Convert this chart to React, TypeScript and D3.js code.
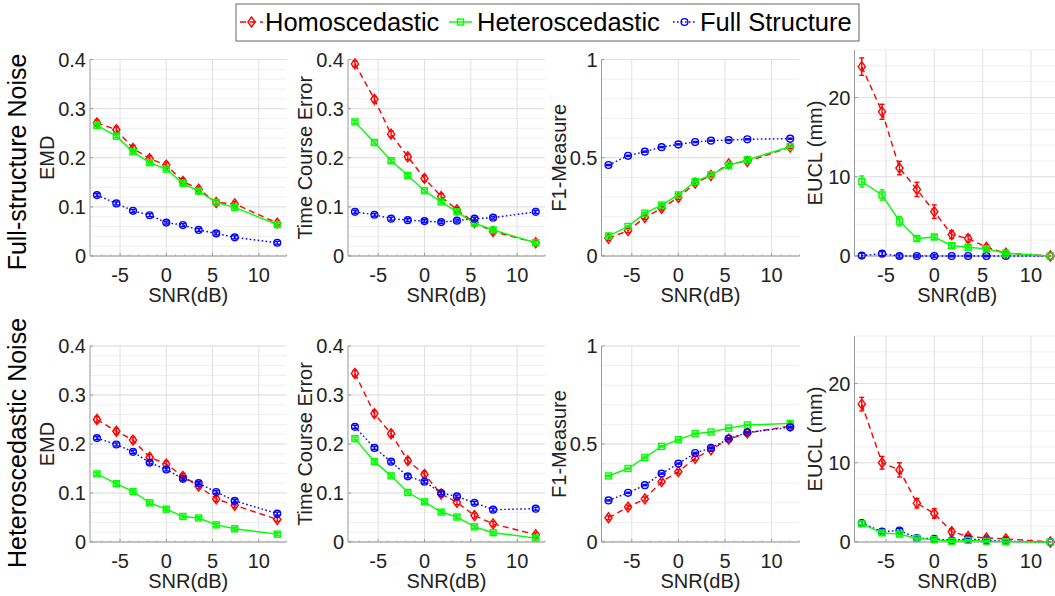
import * as d3 from 'd3';

// SNR levels (dB) shared by all panels
const SNR = [-7.5, -5.4, -3.6, -1.8, 0, 1.8, 3.5, 5.4, 7.4, 12];
const X_TICKS = [-5, 0, 5, 10];
const X_MINOR = [-8, -7, -6, -4, -3, -2, -1, 1, 2, 3, 4, 6, 7, 8, 9, 11, 12, 13];

const SERIES = ['Homoscedastic', 'Heteroscedastic', 'Full Structure'];
const ROW_LABELS = ['Full-structure Noise', 'Heteroscedastic Noise'];

// ─── Row 1: full-structure noise ───────────────────────────────────────────
const emdFullHomo = [0.271, 0.257, 0.219, 0.198, 0.185, 0.152, 0.136, 0.109, 0.106, 0.067];
const emdFullHetero = [0.266, 0.244, 0.212, 0.190, 0.177, 0.148, 0.132, 0.109, 0.099, 0.064];
const emdFullFull = [0.124, 0.107, 0.092, 0.083, 0.068, 0.063, 0.053, 0.046, 0.038, 0.027];

const tceFullHomo = [0.391, 0.319, 0.248, 0.202, 0.158, 0.121, 0.094, 0.068, 0.050, 0.027];
const tceFullHetero = [0.273, 0.231, 0.194, 0.164, 0.133, 0.110, 0.090, 0.067, 0.053, 0.027];
const tceFullFull = [0.090, 0.084, 0.076, 0.073, 0.071, 0.069, 0.072, 0.076, 0.078, 0.090];

const f1FullHomo = [0.090, 0.129, 0.196, 0.243, 0.298, 0.371, 0.410, 0.469, 0.481, 0.554];
const f1FullHetero = [0.102, 0.150, 0.218, 0.259, 0.311, 0.379, 0.413, 0.461, 0.490, 0.556];
const f1FullFull = [0.463, 0.510, 0.531, 0.554, 0.568, 0.580, 0.587, 0.590, 0.594, 0.597];

const euclFullHomo = [23.9, 18.2, 11.1, 8.4, 5.6, 2.7, 2.2, 1.1, 0.35, 0];
const euclFullHetero = [9.4, 7.7, 4.4, 2.2, 2.4, 1.3, 1.1, 0.9, 0.35, 0];
const euclFullFull = [0.05, 0.3, 0, 0, 0, 0, 0, 0, 0, 0];
const euclFullHomoErr = [1.1, 0.95, 0.85, 0.9, 0.85, 0.5, 0.45, 0.3, 0.2, 0];
const euclFullHeteroErr = [0.7, 0.65, 0.6, 0.3, 0.3, 0.25, 0.2, 0.2, 0.15, 0];

// ─── Row 2: heteroscedastic noise ──────────────────────────────────────────
const emdHetHomo = [0.250, 0.226, 0.208, 0.173, 0.159, 0.134, 0.114, 0.088, 0.075, 0.046];
const emdHetHetero = [0.139, 0.119, 0.103, 0.080, 0.067, 0.052, 0.049, 0.035, 0.027, 0.016];
const emdHetFull = [0.212, 0.199, 0.184, 0.162, 0.148, 0.129, 0.120, 0.102, 0.084, 0.058];

const tceHetHomo = [0.344, 0.262, 0.221, 0.166, 0.138, 0.098, 0.081, 0.054, 0.037, 0.015];
const tceHetHetero = [0.211, 0.164, 0.135, 0.101, 0.082, 0.061, 0.051, 0.031, 0.019, 0.008];
const tceHetFull = [0.235, 0.192, 0.164, 0.134, 0.123, 0.100, 0.093, 0.080, 0.066, 0.068];

const f1HetHomo = [0.124, 0.178, 0.220, 0.308, 0.359, 0.427, 0.471, 0.525, 0.556, 0.592];
const f1HetHetero = [0.337, 0.375, 0.431, 0.488, 0.522, 0.553, 0.561, 0.581, 0.597, 0.605];
const f1HetFull = [0.212, 0.251, 0.290, 0.349, 0.400, 0.454, 0.480, 0.527, 0.559, 0.585];

const euclHetHomo = [17.4, 10.0, 9.1, 4.9, 3.6, 1.3, 0.7, 0.5, 0.4, 0];
const euclHetHetero = [2.3, 1.15, 1.0, 0.45, 0.3, 0.1, 0.2, 0.1, 0.05, 0];
const euclHetFull = [2.4, 1.3, 1.45, 0.5, 0.4, 0.2, 0.4, 0.2, 0.1, 0];
const euclHetHomoErr = [0.85, 0.8, 0.9, 0.6, 0.6, 0.4, 0.3, 0.3, 0.3, 0];
const euclHetSmallErr = [0.3, 0.25, 0.25, 0.15, 0.15, 0.1, 0.1, 0.1, 0.05, 0];

// small error bars on the error / F1 panels
const smallErrHomo = [0.006, 0.006, 0.006, 0.006, 0.006, 0.006, 0.005, 0.005, 0.005, 0.004];
const smallErrOther = [0.003, 0.003, 0.003, 0.003, 0.003, 0.003, 0.003, 0.003, 0.003, 0.003];
const f1ErrHomo = [0.01, 0.01, 0.01, 0.01, 0.01, 0.01, 0.008, 0.008, 0.008, 0.006];

const COLORS = ['#ff0000', '#00ff00', '#0000ff'];
const DASH = ['6,4', null, '1.6,2.4'];
const FONT = 'Arial, "Liberation Sans", Helvetica, sans-serif';

type Metric = { label: string; max: number; ticks: number[]; tickLabels: string[]; minor: number[] };
const minorSteps = (max: number, step: number) => d3.range(0, max + step / 2, step);
const EMD: Metric = { label: 'EMD', max: 0.4, ticks: [0, 0.1, 0.2, 0.3, 0.4], tickLabels: ['0', '0.1', '0.2', '0.3', '0.4'], minor: minorSteps(0.4, 0.02) };
const TCE: Metric = { ...EMD, label: 'Time Course Error' };
const F1: Metric = { label: 'F1-Measure', max: 1, ticks: [0, 0.5, 1], tickLabels: ['0', '0.5', '1'], minor: minorSteps(1, 0.1) };
const EUCL: Metric = { label: 'EUCL (mm)', max: 26, ticks: [0, 10, 20], tickLabels: ['0', '10', '20'], minor: minorSteps(26, 2) };

type PanelDef = {
  metric: Metric; x0: number; x1: number; y0: number; y1: number; labelX: number;
  values: number[][]; errs: number[][]; order: number[];
};

const ROW1_TOP = 59.5, ROW1_BOT = 256, ROW2_TOP = 346, ROW2_BOT = 542;
const COLS = [
  { x0: 90, x1: 286.5, labelX: 47 },
  { x0: 348, x1: 545, labelX: 305 },
  { x0: 601.5, x1: 799.5, labelX: 559 },
  { x0: 854.5, x1: 1060, labelX: 815 },
];

const PANELS: PanelDef[] = [
  { metric: EMD, ...COLS[0], y0: ROW1_TOP, y1: ROW1_BOT, values: [emdFullHomo, emdFullHetero, emdFullFull], errs: [smallErrHomo, smallErrOther, smallErrOther], order: [0, 1, 2] },
  { metric: TCE, ...COLS[1], y0: ROW1_TOP, y1: ROW1_BOT, values: [tceFullHomo, tceFullHetero, tceFullFull], errs: [smallErrHomo, smallErrOther, smallErrOther], order: [0, 1, 2] },
  { metric: F1, ...COLS[2], y0: ROW1_TOP, y1: ROW1_BOT, values: [f1FullHomo, f1FullHetero, f1FullFull], errs: [f1ErrHomo, smallErrOther, smallErrOther], order: [0, 1, 2] },
  { metric: EUCL, ...COLS[3], y0: 50, y1: ROW1_BOT, values: [euclFullHomo, euclFullHetero, euclFullFull], errs: [euclFullHomoErr, euclFullHeteroErr, euclHetSmallErr], order: [2, 0, 1] },
  { metric: EMD, ...COLS[0], y0: ROW2_TOP, y1: ROW2_BOT, values: [emdHetHomo, emdHetHetero, emdHetFull], errs: [smallErrHomo, smallErrOther, smallErrOther], order: [0, 1, 2] },
  { metric: TCE, ...COLS[1], y0: ROW2_TOP, y1: ROW2_BOT, values: [tceHetHomo, tceHetHetero, tceHetFull], errs: [smallErrHomo, smallErrOther, smallErrOther], order: [0, 1, 2] },
  { metric: F1, ...COLS[2], y0: ROW2_TOP, y1: ROW2_BOT, values: [f1HetHomo, f1HetHetero, f1HetFull], errs: [f1ErrHomo, smallErrOther, smallErrOther], order: [0, 1, 2] },
  { metric: EUCL, ...COLS[3], y0: 336, y1: ROW2_BOT, values: [euclHetHomo, euclHetHetero, euclHetFull], errs: [euclHetHomoErr, euclHetSmallErr, euclHetSmallErr], order: [0, 2, 1] },
];

function Marker({ kind, x, y, color }: { kind: number; x: number; y: number; color: string }) {
  const common = { fill: 'none', stroke: color, strokeWidth: 1.4 };
  if (kind === 0) return <path d={`M${x},${y - 5}L${x + 3.6},${y}L${x},${y + 5}L${x - 3.6},${y}Z`} {...common} />;
  if (kind === 1) return <rect x={x - 3} y={y - 3} width={6} height={6} {...common} />;
  return <circle cx={x} cy={y} r={3.4} {...common} />;
}

function Panel({ p }: { p: PanelDef }) {
  const x = d3.scaleLinear().domain([-8.25, 13]).range([p.x0, p.x1]);
  const y = d3.scaleLinear().domain([0, p.metric.max]).range([p.y1, p.y0]);
  const line = d3.line<number>().x((_, i) => x(SNR[i])).y(d => y(d));
  const midY = (p.y0 + p.y1) / 2;
  return (
    <g>
      {/* minor y grid */}
      {p.metric.minor.map(v => (
        <line key={'m' + v} x1={p.x0} x2={p.x1} y1={y(v)} y2={y(v)} stroke="#efefef" strokeWidth={1} />
      ))}
      {/* major grid */}
      {p.metric.ticks.map(v => (
        <line key={'g' + v} x1={p.x0} x2={p.x1} y1={y(v)} y2={y(v)} stroke="#e0e0e0" strokeWidth={1} />
      ))}
      {X_TICKS.map(v => (
        <line key={'gx' + v} x1={x(v)} x2={x(v)} y1={p.y0} y2={p.y1} stroke="#e0e0e0" strokeWidth={1} />
      ))}
      {/* axes */}
      <line x1={p.x0} x2={p.x0} y1={p.y0} y2={p.y1} stroke="#999" strokeWidth={1} />
      <line x1={p.x0} x2={p.x1} y1={p.y1} y2={p.y1} stroke="#999" strokeWidth={1} />
      {X_TICKS.map(v => (
        <line key={'t' + v} x1={x(v)} x2={x(v)} y1={p.y1} y2={p.y1 - 3} stroke="#999" />
      ))}
      {X_MINOR.map(v => (
        <line key={'tm' + v} x1={x(v)} x2={x(v)} y1={p.y1} y2={p.y1 - 1.5} stroke="#aaa" />
      ))}
      {p.metric.ticks.map(v => (
        <line key={'ty' + v} x1={p.x0} x2={p.x0 + 3} y1={y(v)} y2={y(v)} stroke="#999" />
      ))}
      {/* tick labels */}
      {p.metric.ticks.map((v, i) => (
        <text key={'yl' + v} x={p.x0 - 4} y={y(v)} dy="0.35em" textAnchor="end" fontSize={20} fill="#222">
          {p.metric.tickLabels[i]}
        </text>
      ))}
      {X_TICKS.map(v => (
        <text key={'xl' + v} x={x(v)} y={p.y1 + 26} textAnchor="middle" fontSize={20} fill="#222">
          {v < 0 ? '-' + Math.abs(v) : String(v)}
        </text>
      ))}
      <text x={(p.x0 + p.x1) / 2} y={p.y1 + 46} textAnchor="middle" fontSize={20} fill="#222">SNR(dB)</text>
      <text transform={`translate(${p.labelX},${midY}) rotate(-90)`} dy="0.35em" textAnchor="middle" fontSize={20} fill="#222">
        {p.metric.label}
      </text>
      {/* series */}
      {p.order.map(s => (
        <g key={s}>
          <path d={line(p.values[s]) || ''} fill="none" stroke={COLORS[s]} strokeWidth={1.4}
            strokeDasharray={DASH[s] || undefined} />
          {p.values[s].map((v, i) => {
            const e = p.errs[s][i];
            const cx = x(SNR[i]);
            return (
              <g key={i}>
                {e > 0 && (
                  <g stroke={COLORS[s]} strokeWidth={1.4}>
                    <line x1={cx} x2={cx} y1={y(v - e)} y2={y(v + e)} />
                    <line x1={cx - 2.5} x2={cx + 2.5} y1={y(v - e)} y2={y(v - e)} />
                    <line x1={cx - 2.5} x2={cx + 2.5} y1={y(v + e)} y2={y(v + e)} />
                  </g>
                )}
                <Marker kind={s} x={cx} y={y(v)} color={COLORS[s]} />
              </g>
            );
          })}
        </g>
      ))}
    </g>
  );
}

function Legend() {
  const entries = [
    { sx: 240, text: 265 },
    { sx: 449, text: 477 },
    { sx: 673, text: 700 },
  ];
  return (
    <g>
      <rect x={236} y={4} width={623} height={37} fill="#fff" stroke="#666" strokeWidth={1} />
      {entries.map((e, i) => (
        <g key={i}>
          <line x1={e.sx} x2={e.sx + 23} y1={22} y2={22} stroke={COLORS[i]} strokeWidth={1.4}
            strokeDasharray={DASH[i] || undefined} />
          <Marker kind={i} x={e.sx + 11.5} y={22} color={COLORS[i]} />
          <text x={e.text} y={22} dy="0.35em" fontSize={25.5} fill="#000">{SERIES[i]}</text>
        </g>
      ))}
    </g>
  );
}

export default function App() {
  return (
    <svg width={1055} height={596} style={{ position: 'absolute', left: 0, top: 0, background: '#fff' }}
      fontFamily={FONT}>
      <rect width={1055} height={596} fill="#fff" />
      {PANELS.map((p, i) => <Panel key={i} p={p} />)}
      <text transform={`translate(17,${162})rotate(-90)`} dy="0.35em" textAnchor="middle" fontSize={25} fill="#000">
        {ROW_LABELS[0]}
      </text>
      <text transform={`translate(17,${443})rotate(-90)`} dy="0.35em" textAnchor="middle" fontSize={25} fill="#000">
        {ROW_LABELS[1]}
      </text>
      <Legend />
    </svg>
  );
}
